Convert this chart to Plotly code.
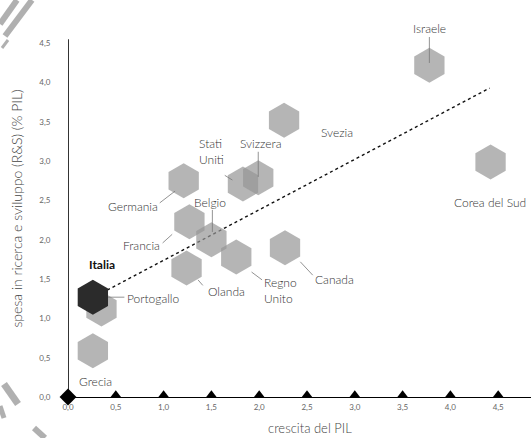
import plotly.graph_objects as go

# ---- data ----
countries = ["Italia", "Portogallo", "Grecia", "Germania", "Francia", "Belgio", "Olanda",
             "Stati Uniti", "Svizzera", "Svezia", "Regno Unito", "Canada", "Israele", "Corea del Sud"]
gdp_growth = [0.26, 0.35, 0.26, 1.21, 1.27, 1.50, 1.24, 1.83, 1.99, 2.26, 1.76, 2.27, 3.78, 4.42]
rd_spending = [1.27, 1.12, 0.59, 2.75, 2.23, 2.00, 1.64, 2.71, 2.79, 3.52, 1.78, 1.90, 4.22, 2.99]

trend_x = [0.41, 4.41]
trend_y = [1.36, 3.93]

x_ticks = [0.0, 0.5, 1.0, 1.5, 2.0, 2.5, 3.0, 3.5, 4.0, 4.5]
y_ticks = [0.0, 0.5, 1.0, 1.5, 2.0, 2.5, 3.0, 3.5, 4.0, 4.5]
x_tick_labels = ["0,0", "0,5", "1,0", "1,5", "2,0", "2,5", "3,0", "3,5", "4,0", "4,5"]
y_tick_labels = ["0,0", "0,5", "1,0", "1,5", "2,0", "2,5", "3,0", "3,5", "4,0", "4,5"]

# label placement (layout only)
label_text = ["<b>Italia</b>", "Portogallo", "Grecia", "Germania", "Francia", "Belgio", "Olanda",
              "Stati<br>Uniti", "Svizzera", "Svezia", "Regno<br>Unito", "Canada", "Israele", "Corea del Sud"]
label_pos = [(0.36, 1.68, "center"), (0.60, 1.25, "left"), (0.09, 0.20, "left"), (0.96, 2.42, "right"),
             (0.98, 1.93, "right"), (1.49, 2.47, "center"), (1.66, 1.34, "center"),
             (1.35, 3.12, "left"), (2.02, 3.23, "center"), (2.81, 3.37, "center"),
             (2.03, 1.35, "left"), (2.56, 1.49, "left"), (3.78, 4.69, "center"), (4.41, 2.47, "center")]
leaders = [(0.42, 1.27, 0.59, 1.27), (0.96, 2.47, 1.12, 2.62), (0.99, 1.96, 1.09, 2.07),
           (1.51, 2.38, 1.51, 2.10), (1.64, 2.82, 1.72, 2.76), (1.99, 3.12, 1.99, 2.80),
           (1.36, 1.49, 1.41, 1.42), (1.92, 1.59, 2.03, 1.49), (2.43, 1.72, 2.56, 1.55),
           (3.78, 4.58, 3.78, 4.25)]

W, H = 531, 438
L, R, T, B = 68, 0, 20, 41
XMAX = (W - L - R) / 95.6
YMAX = (H - T - B) / 78.6

FONT = "Lato"
TXT = "#333333"

fig = go.Figure()

# trend line
fig.add_trace(go.Scatter(x=trend_x, y=trend_y, mode="lines",
                         line=dict(color="#111", width=1.4, dash="dot"),
                         hoverinfo="skip", showlegend=False))

# countries (others first, Italia last on top)
order = [i for i in range(len(countries)) if countries[i] != "Italia"] + [countries.index("Italia")]
colors = ["#2b2b2b" if countries[i] == "Italia" else "rgba(150,150,150,0.7)" for i in order]
fig.add_trace(go.Scatter(
    x=[gdp_growth[i] for i in order], y=[rd_spending[i] for i in order],
    mode="markers", text=[countries[i] for i in order],
    marker=dict(symbol="hexagon", size=35, color=colors, line=dict(width=0)),
    cliponaxis=False, showlegend=False))

# tick decorations
fig.add_trace(go.Scatter(x=[-0.094] * len(y_ticks), y=y_ticks, mode="markers",
                         marker=dict(symbol="triangle-right", size=11, color="black"),
                         cliponaxis=False, hoverinfo="skip", showlegend=False))
fig.add_trace(go.Scatter(x=x_ticks[1:], y=[0.03] * (len(x_ticks) - 1), mode="markers",
                         marker=dict(symbol="triangle-up", size=9, color="black"),
                         cliponaxis=False, hoverinfo="skip", showlegend=False))
fig.add_trace(go.Scatter(x=[0], y=[0], mode="markers",
                         marker=dict(symbol="diamond", size=13, color="black"),
                         cliponaxis=False, hoverinfo="skip", showlegend=False))

# labels
for t, (lx, ly, anc) in zip(label_text, label_pos):
    fig.add_annotation(x=lx, y=ly, text=t, showarrow=False, xanchor=anc, yanchor="middle",
                       align=anc if anc != "center" else "center",
                       font=dict(family=FONT, size=12, color="#111" if "Italia" in t else TXT,
                                 weight=400 if "Italia" in t else 300))
for (x0, y0, x1, y1) in leaders:
    fig.add_shape(type="line", x0=x0, y0=y0, x1=x1, y1=y1,
                  line=dict(color="#777", width=0.8))

# y axis line
fig.add_shape(type="line", x0=0, x1=0, y0=0, y1=4.55, line=dict(color="black", width=1.6))

# x axis title
fig.add_annotation(xref="paper", yref="paper", x=(310 - L) / (W - L - R), y=-(428 - (H - B)) / (H - T - B),
                   text="crescita del PIL", showarrow=False, xanchor="center", yanchor="middle",
                   font=dict(family=FONT, size=13, color="#444", weight=300))

# decorative hatched stripes (pixel coords -> paper)
def px(xp):
    return (xp - L) / (W - L - R)

def py(yp):
    return ((H - B) - yp) / (H - T - B)

stripes = [((0, 24), (17, 0), 6), ((5, 36), (32, 0), 6), ((2, 48), (8, 40), 3),
           ((4, 384), (18, 404), 7), ((0, 406), (4, 418), 5), ((34, 428), (45, 438), 6)]
for (a, b, w) in stripes:
    fig.add_shape(type="line", xref="paper", yref="paper", x0=px(a[0]), y0=py(a[1]),
                  x1=px(b[0]), y1=py(b[1]), line=dict(color="rgba(150,150,150,0.75)", width=w))

fig.update_layout(
    width=W, height=H,
    margin=dict(l=L, r=R, t=T, b=B),
    paper_bgcolor="white", plot_bgcolor="white",
    font=dict(family=FONT, color=TXT),
    xaxis=dict(range=[0, XMAX], tickvals=x_ticks, ticktext=x_tick_labels,
               showgrid=False, zeroline=False, showline=True, linecolor="black", linewidth=1.2,
               ticks="outside", ticklen=2, tickcolor="rgba(0,0,0,0)",
               tickfont=dict(family=FONT, size=8, color="#666")),
    yaxis=dict(range=[0, YMAX], tickvals=y_ticks, ticktext=y_tick_labels,
               showgrid=False, zeroline=False, showline=False,
               ticks="outside", ticklen=15, tickcolor="rgba(0,0,0,0)",
               tickfont=dict(family=FONT, size=8, color="#666"),
               title=dict(text="spesa in ricerca e sviluppo (R&S) (% PIL)", standoff=13,
                          font=dict(family=FONT, size=14, color="#444", weight=300))),
    showlegend=False,
)

fig.write_html("out.html", config={"displayModeBar": False},
               post_script="document.body.style.margin='0px';document.body.style.overflow='hidden';")
